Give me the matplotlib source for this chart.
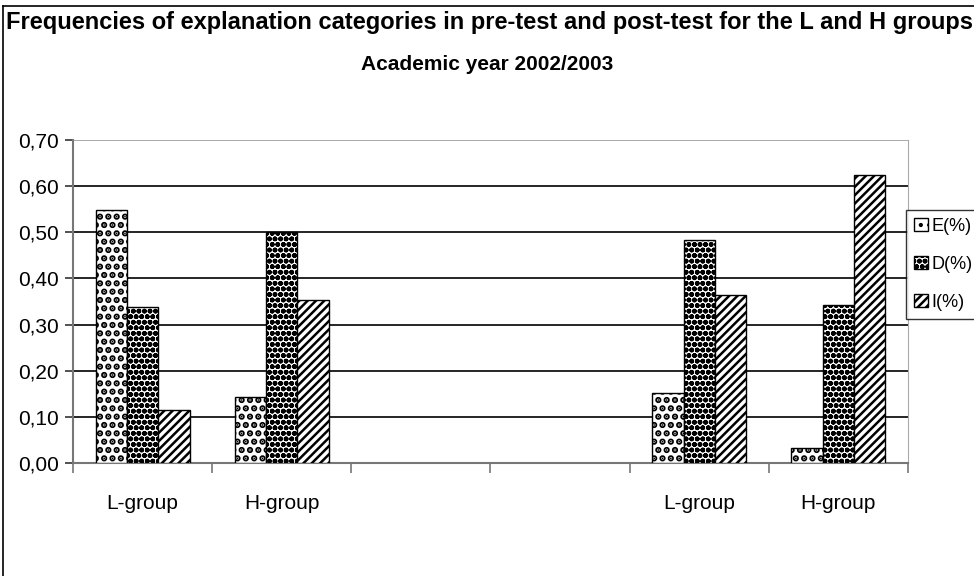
import matplotlib
matplotlib.use("Agg")
import matplotlib.pyplot as plt
import numpy as np
from matplotlib.lines import Line2D

categories = ["L-group", "H-group", "", "", "L-group", "H-group"]
series = ["E(%)", "D(%)", "I(%)"]
e_vals = [0.548, 0.143, np.nan, np.nan, 0.152, 0.033]
d_vals = [0.337, 0.500, np.nan, np.nan, 0.483, 0.343]
i_vals = [0.115, 0.354, np.nan, np.nan, 0.365, 0.624]
yticks = [0.0, 0.1, 0.2, 0.3, 0.4, 0.5, 0.6, 0.7]
ytick_labels = ["0,00", "0,10", "0,20", "0,30", "0,40", "0,50", "0,60", "0,70"]

plt.rcParams['font.family'] = ['Liberation Sans', 'DejaVu Sans']
plt.rcParams['hatch.linewidth'] = 1.8

W, H = 974, 576
fig = plt.figure(figsize=(W / 100, H / 100), dpi=100)
fig.patch.set_facecolor('white')

ax = fig.add_axes([73 / W, 1 - 463 / H, (908 - 73) / W, (463 - 140) / H])

x = np.arange(len(categories))
bw = 0.225
hatches = ['..', 'ooo', '////']
hlw = [3.2, 1.8, 1.8]
vals = [e_vals, d_vals, i_vals]
for k, (v, h) in enumerate(zip(vals, hatches)):
    bars = ax.bar(x + (k - 1) * bw, v, bw, facecolor='white', edgecolor='black',
                  hatch=h, linewidth=1.0, label=series[k], zorder=3)
    for b in bars:
        try:
            b.set_hatch_linewidth(hlw[k])
        except Exception:
            pass

ax.set_xlim(-0.5, len(categories) - 0.5)
ax.set_ylim(0, 0.7)
ax.set_yticks(yticks)
ax.set_yticklabels(ytick_labels, fontsize=15)
ax.set_xticks(x)
ax.set_xticklabels(categories, fontsize=15)
ax.set_xticks(np.arange(len(categories) + 1) - 0.5, minor=True)
ax.tick_params(axis='x', which='major', length=0, pad=22)
ax.tick_params(axis='x', which='minor', length=7, width=1.2, color='#777777')
ax.tick_params(axis='y', length=6, width=1.2, color='#333333', pad=4)
for y in yticks[1:-1]:
    ax.axhline(y, color='black', linewidth=1.2, zorder=1)
ax.axhline(0.7, color='#999999', linewidth=1.2, zorder=1)
ax.spines['top'].set_visible(False)
ax.spines['right'].set_color('#aaaaaa')
ax.spines['bottom'].set_color('#777777')
ax.spines['bottom'].set_linewidth(1.5)
ax.spines['left'].set_color('#777777')
ax.spines['left'].set_linewidth(1.5)

# outer border
fig.add_artist(Line2D([3 / W, 3 / W], [0, 1 - 6 / H], transform=fig.transFigure, color='black', lw=1.2))
fig.add_artist(Line2D([3 / W, 1], [1 - 6 / H, 1 - 6 / H], transform=fig.transFigure, color='black', lw=1.2))

fig.text(6 / W, 1 - 23 / H, "Frequencies of explanation categories in pre-test and post-test for the L and H groups",
         fontsize=17, fontweight='bold', ha='left', va='center')
fig.text(487 / W, 1 - 64 / H, "Academic year 2002/2003", fontsize=15, fontweight='bold',
         ha='center', va='center')

leg = fig.legend(loc='upper left', bbox_to_anchor=(906 / W, 1 - 210 / H), frameon=True,
                 fancybox=False, edgecolor='black', handlelength=0.75,
                 handleheight=0.75, handletextpad=0.2, borderpad=0.45, borderaxespad=0,
                 labelspacing=1.15, prop={'size': 13})
leg.get_frame().set_linewidth(1.0)

fig.savefig("out.png", dpi=100)
